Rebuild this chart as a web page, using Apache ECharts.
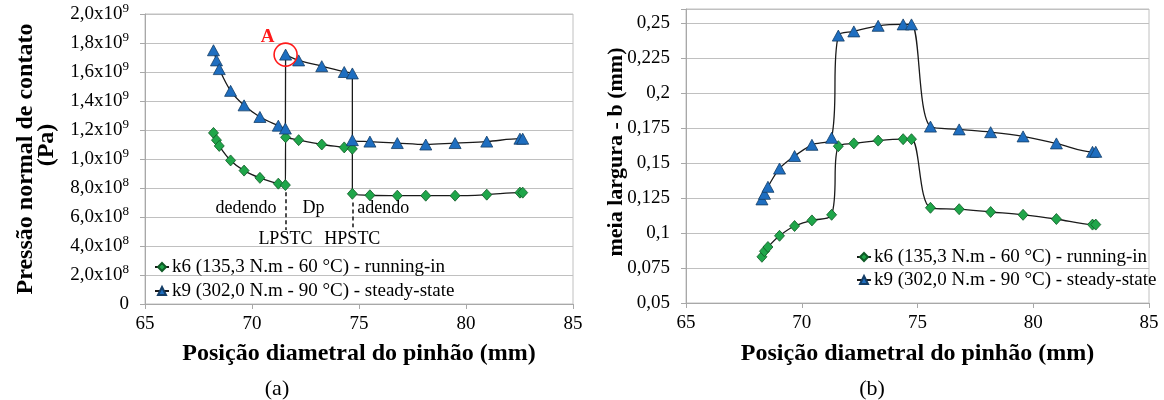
<!DOCTYPE html>
<html>
<head>
<meta charset="utf-8">
<script src="https://cdn.jsdelivr.net/npm/echarts/dist/echarts.min.js"></script>
<style>
  html, body { margin: 0; padding: 0; background: #fff; }
  #chart { width: 1164px; height: 400px; }
</style>
</head>
<body>
<div id="chart"></div>
<script>
// ---- (a) contact pressure along the pinion profile ----
const posA = [68.20, 68.34, 68.47, 69.00, 69.63, 70.37, 71.23, 71.56, 71.57, 72.18, 73.26,
              74.31, 74.69, 74.69, 75.51, 76.79, 78.12, 79.49, 80.97, 82.52, 82.65];
const k6Pressure = [1.18e9, 1.13e9, 1.09e9, 9.9e8, 9.2e8, 8.7e8, 8.3e8, 8.2e8, 1.15e9, 1.13e9, 1.10e9,
                    1.08e9, 1.07e9, 7.6e8, 7.5e8, 7.47e8, 7.47e8, 7.47e8, 7.54e8, 7.68e8, 7.68e8];
const k9Pressure = [1.75e9, 1.68e9, 1.62e9, 1.47e9, 1.37e9, 1.29e9, 1.23e9, 1.21e9, 1.72e9, 1.68e9, 1.64e9,
                    1.60e9, 1.59e9, 1.13e9, 1.12e9, 1.11e9, 1.10e9, 1.11e9, 1.12e9, 1.14e9, 1.14e9];

// ---- (b) contact half-width along the pinion profile ----
const posB = [68.28, 68.39, 68.54, 69.04, 69.69, 70.44, 71.29, 71.58, 72.25, 73.30, 74.38,
              74.74, 75.56, 76.80, 78.16, 79.56, 81.00, 82.56, 82.70];
const k6HalfWidth = [0.083, 0.087, 0.090, 0.098, 0.105, 0.109, 0.113, 0.162, 0.164, 0.166, 0.167,
                     0.167, 0.118, 0.117, 0.115, 0.113, 0.110, 0.106, 0.106];
const k9HalfWidth = [0.124, 0.128, 0.133, 0.146, 0.155, 0.163, 0.168, 0.241, 0.244, 0.248, 0.249,
                     0.249, 0.176, 0.174, 0.172, 0.169, 0.164, 0.158, 0.158];

// axis ranges [min, max, step]
const xRange = [65, 85, 5];
const yRangeA = [0, 2.0e9, 2.0e8];
const yRangeB = [0.05, 0.26, 0.025];

const seriesNames = ['k6 (135,3 N.m - 60 °C) - running-in', 'k9 (302,0 N.m - 90 °C) - steady-state'];
const xTitle = 'Posição diametral do pinhão (mm)';
const yTitleA = ['Pressão normal de contato', '(Pa)'];
const yTitleB = 'meia largura - b (mm)';
const captions = ['(a)', '(b)'];
const zoneLabels = ['dedendo', 'Dp', 'adendo'];
const pitchPoints = ['LPSTC', 'HPSTC'];
const highlightLabel = 'A';

// indices of the single/double tooth contact limits in chart (a)
const idxLPSTC = 7, idxHPSTC = 12, idxA = 8;

const FONT = '"Liberation Serif", "Times New Roman", serif';
const GREEN = '#1FA64A', BLUE = '#1E6EC0';
const GRID_COLOR = '#c0c0c0', AXIS_COLOR = '#a8a8a8';

function pairs(xs, ys) { return xs.map((x, i) => [x, ys[i]]); }

function pressureLabel(v) {
  if (v === 0) return '0';
  const e = Math.floor(Math.log10(v) + 1e-9);
  const m = (v / Math.pow(10, e)).toFixed(1).replace('.', ',');
  return '{m|' + m + 'x10}{e|' + e + '}';
}
function widthLabel(v) {
  const k = v / yRangeB[2];
  if (Math.abs(k - Math.round(k)) > 1e-6) return '';
  return String(parseFloat(v.toFixed(3))).replace('.', ',');
}

const chart = echarts.init(document.getElementById('chart'), null, { renderer: 'canvas' });

function xAxisCfg(gridIndex, gap) {
  return {
    type: 'value', gridIndex,
    min: xRange[0], max: xRange[1], interval: xRange[2],
    name: xTitle, nameLocation: 'middle', nameGap: gap,
    nameTextStyle: { fontFamily: FONT, fontSize: 24, fontWeight: 'bold', color: '#000' },
    axisLine: { show: true, lineStyle: { color: AXIS_COLOR, width: 1 } },
    axisTick: { show: true, inside: false, length: 5, lineStyle: { color: AXIS_COLOR } },
    axisLabel: { fontFamily: FONT, fontSize: 19, color: '#000', margin: 11 },
    splitLine: { show: false }
  };
}

const lineCommon = {
  type: 'line', smooth: 0.35, showSymbol: true, silent: true,
  lineStyle: { color: '#1a1a1a', width: 1.3 },
  emphasis: { disabled: true }, animation: false, z: 3
};

const legendText = { fontFamily: FONT, fontSize: 19, color: '#000', lineHeight: 20, padding: [0, 0, 0, -2] };

const option = {
  animation: false,
  backgroundColor: '#fff',
  textStyle: { fontFamily: FONT },
  grid: [
    { left: 145, top: 14, right: 1164 - 573, bottom: 400 - 304, show: true,
      borderColor: GRID_COLOR, borderWidth: 1, containLabel: false, outerBoundsMode: 'none' },
    { left: 686, top: 9, right: 1164 - 1149, bottom: 400 - 303, show: true,
      borderColor: GRID_COLOR, borderWidth: 1, containLabel: false, outerBoundsMode: 'none' }
  ],
  xAxis: [xAxisCfg(0, 38), xAxisCfg(1, 39)],
  yAxis: [
    {
      type: 'value', gridIndex: 0,
      min: yRangeA[0], max: yRangeA[1], interval: yRangeA[2],
      axisLine: { show: true, lineStyle: { color: AXIS_COLOR } },
      axisTick: { show: true, length: 5, lineStyle: { color: AXIS_COLOR } },
      axisLabel: {
        formatter: pressureLabel, margin: 16, color: '#000',
        fontFamily: FONT, fontSize: 19,
        rich: {
          m: { fontFamily: FONT, fontSize: 19, color: '#000', lineHeight: 24 },
          e: { fontFamily: FONT, fontSize: 13, color: '#000', verticalAlign: 'top', lineHeight: 14 }
        }
      },
      splitLine: { show: true, lineStyle: { color: GRID_COLOR, width: 1 } }
    },
    {
      type: 'value', gridIndex: 1,
      min: yRangeB[0], max: yRangeB[1], interval: yRangeB[2],
      axisLine: { show: true, lineStyle: { color: AXIS_COLOR } },
      axisTick: { show: true, length: 5, lineStyle: { color: AXIS_COLOR } },
      axisLabel: { formatter: widthLabel, margin: 16, color: '#000', fontFamily: FONT, fontSize: 19 },
      splitLine: { show: true, lineStyle: { color: GRID_COLOR, width: 1 } }
    }
  ],
  legend: [
    {
      left: 149, top: 252, orient: 'vertical', itemGap: 4, itemWidth: 14, itemHeight: 10,
      data: seriesNames, selectedMode: false, textStyle: legendText
    },
    {
      left: 851, top: 242, orient: 'vertical', itemGap: 3, itemWidth: 14, itemHeight: 10,
      data: seriesNames, selectedMode: false, textStyle: legendText
    }
  ],
  series: [
    Object.assign({}, lineCommon, {
      name: seriesNames[0], xAxisIndex: 0, yAxisIndex: 0,
      data: pairs(posA, k6Pressure),
      symbol: 'diamond', symbolSize: [10, 11],
      itemStyle: { color: GREEN, borderColor: '#0f5a26', borderWidth: 0.8 },
      markLine: {
        silent: true, symbol: ['none', 'none'], label: { show: false },
        lineStyle: { color: '#222', width: 1.6, type: [4, 3] },
        data: [
          [{ coord: [posA[idxLPSTC], 7.7e8] }, { coord: [posA[idxLPSTC], 5.1e8] }],
          [{ coord: [posA[idxHPSTC], 7.0e8] }, { coord: [posA[idxHPSTC], 5.3e8] }]
        ]
      }
    }),
    Object.assign({}, lineCommon, {
      name: seriesNames[1], xAxisIndex: 0, yAxisIndex: 0,
      data: pairs(posA, k9Pressure),
      symbol: 'triangle', symbolSize: [12, 11],
      itemStyle: { color: BLUE, borderColor: '#143d66', borderWidth: 0.8 },
      markPoint: {
        silent: true, symbol: 'circle', symbolSize: 23,
        itemStyle: { color: 'rgba(0,0,0,0)', borderColor: '#ff1a1a', borderWidth: 1.6 },
        label: { show: false },
        data: [{ coord: [posA[idxA], k9Pressure[idxA]] }]
      }
    }),
    Object.assign({}, lineCommon, {
      name: seriesNames[0], xAxisIndex: 1, yAxisIndex: 1,
      data: pairs(posB, k6HalfWidth),
      symbol: 'diamond', symbolSize: [10, 11],
      itemStyle: { color: GREEN, borderColor: '#0f5a26', borderWidth: 0.8 }
    }),
    Object.assign({}, lineCommon, {
      name: seriesNames[1], xAxisIndex: 1, yAxisIndex: 1,
      data: pairs(posB, k9HalfWidth),
      symbol: 'triangle', symbolSize: [12, 11],
      itemStyle: { color: BLUE, borderColor: '#143d66', borderWidth: 0.8 }
    })
  ]
};

chart.setOption(option);

// annotations placed from data coordinates of chart (a)
const toPx = (g, x, y) => chart.convertToPixel({ gridIndex: g }, [x, y]);
const lp = toPx(0, posA[idxLPSTC], 6.62e8);
const hp = toPx(0, posA[idxHPSTC], 6.62e8);
const lpLow = toPx(0, posA[idxLPSTC], 4.48e8);
const hpLow = toPx(0, posA[idxHPSTC], 4.48e8);
const aPt = toPx(0, posA[idxA], k9Pressure[idxA]);

function txt(text, x, y, opts) {
  return {
    type: 'text', x, y, silent: true, z: 10,
    style: Object.assign({
      text, fill: '#000', font: '18px ' + FONT, textAlign: 'center', textVerticalAlign: 'middle'
    }, opts || {})
  };
}

chart.setOption({
  graphic: [
    txt(zoneLabels[0], lp[0] - 9, lp[1], { textAlign: 'right' }),
    txt(zoneLabels[1], lp[0] + 17, lp[1], { textAlign: 'left' }),
    txt(zoneLabels[2], hp[0] + 5, hp[1], { textAlign: 'left' }),
    txt(pitchPoints[0], lpLow[0], lpLow[1]),
    txt(pitchPoints[1], hpLow[0], hpLow[1]),
    txt(highlightLabel, aPt[0] - 18, aPt[1] - 18, { fill: '#ff1a1a', font: 'bold 19px ' + FONT }),
    // axis titles
    Object.assign(txt(yTitleA[0], 26, 159, { font: 'bold 24px ' + FONT }), { rotation: Math.PI / 2 }),
    Object.assign(txt(yTitleA[1], 47, 145, { font: 'bold 24px ' + FONT }), { rotation: Math.PI / 2 }),
    Object.assign(txt(yTitleB, 616, 152, { font: 'bold 22px ' + FONT }), { rotation: Math.PI / 2 }),
    // panel captions
    txt(captions[0], 277, 389, { font: '22px ' + FONT }),
    txt(captions[1], 872, 389, { font: '22px ' + FONT })
  ]
});
</script>
</body>
</html>
